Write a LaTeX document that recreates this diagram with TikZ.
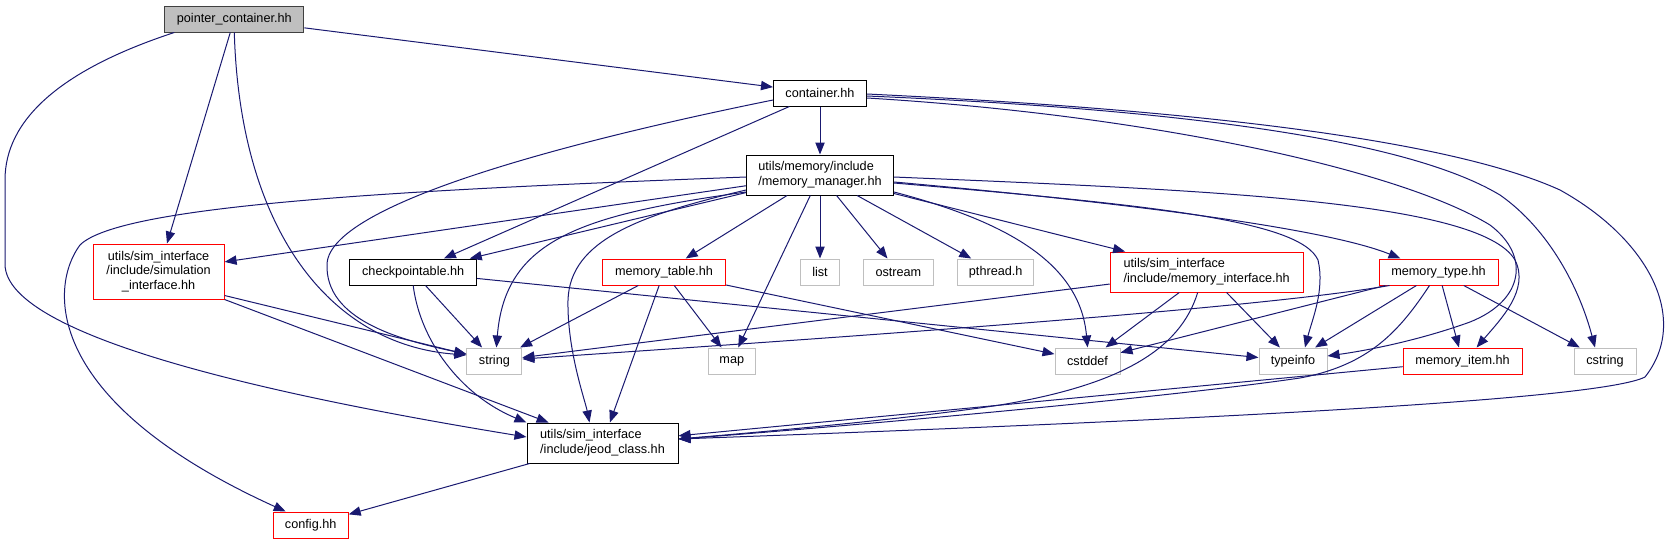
\documentclass[tikz,border=0pt]{standalone}
\usepackage{fontspec}
\setmainfont{Liberation Sans}
\usepackage{xcolor}
\usetikzlibrary{arrows.meta, positioning, calc}
\definecolor{edgeblue}{HTML}{191970}
\definecolor{boxgray}{HTML}{BFBFBF}
\definecolor{boxred}{HTML}{FF0000}
\tikzset{
  %% File box of the include graph
  filebox/.style={
    rectangle, draw=#1, fill=white,
    line width=0.75pt, inner sep=0pt, align=center,
    font=\fontsize{9.5}{11}\selectfont
  },
  filebox/.default=black,
  %% Box size given in pixels
  pxsize/.style 2 args={minimum width=#1*0.75pt, minimum height=#2*0.75pt},
  %% Include arrow
  inc/.style={-{Triangle[length=9pt,width=7pt]},
              draw=edgeblue, line width=0.75pt},
}

\begin{document}
\begin{tikzpicture}[x=0.75pt, y=-0.75pt]
  \useasboundingbox (0,0) rectangle (1679,544);

  \node[filebox=black!75, fill=boxgray, pxsize={139}{26}] (pc) at (234.3,19)
       {pointer\_container.hh};
  \node[filebox, pxsize={93}{26}] (cont) at (820,93) {container.hh};
  \node[filebox, align=left, pxsize={147}{40}] (mm) at (820,175)
       {utils/memory/include\\/memory\_manager.hh};

  \node[filebox=boxred, pxsize={131}{55}] (simi) at (158.6,271.5)
       {utils/sim\_interface\\/include/simulation\\\_interface.hh};
  \node[filebox, pxsize={127}{26}] (ckpt) at (413.2,272) {checkpointable.hh};
  \node[filebox=boxred, pxsize={123}{26}] (mtab) at (664,272) {memory\_table.hh};
  \node[filebox=boxgray, pxsize={39}{26}] (list) at (820,272) {list};
  \node[filebox=boxgray, pxsize={70}{26}] (ostream) at (898.4,272) {ostream};
  \node[filebox=boxgray, pxsize={76}{26}] (pthread) at (995.7,272) {pthread.h};
  \node[filebox=boxred, align=left, pxsize={193}{40}] (mint) at (1206.7,272)
       {utils/sim\_interface\\/include/memory\_interface.hh};
  \node[filebox=boxred, pxsize={119}{26}] (mtype) at (1438.5,272) {memory\_type.hh};

  \node[filebox=boxgray, pxsize={55}{26}] (string) at (494.4,361) {string};
  \node[filebox=boxgray, pxsize={47}{26}] (map) at (731.8,361) {map};
  \node[filebox=boxgray, pxsize={65}{26}] (cstddef) at (1087.5,361) {cstddef};
  \node[filebox=boxgray, pxsize={68}{26}] (typeinfo) at (1293,361) {typeinfo};
  \node[filebox=boxred, pxsize={119}{26}] (mitem) at (1462.6,361) {memory\_item.hh};
  \node[filebox=boxgray, pxsize={62}{26}] (cstring) at (1605,361) {cstring};

  \node[filebox, align=left, pxsize={151}{40}] (jeod) at (602.5,443)
       {utils/sim\_interface\\/include/jeod\_class.hh};
  \node[filebox=boxred, pxsize={75}{26}] (config) at (310.7,525) {config.hh};

  %% pointer_container.hh
  \draw[inc] (pc) -- (cont);
  \draw[inc] (pc) -- (simi);
  \draw[inc] (pc.south) .. controls (240,230) and (330,345)
             .. ($(string.west)+(0,-6)$);
  \draw[inc] ($(pc.south west)+(10,0)$) .. controls (60,70) and (5,120) .. (5,180)
             -- (5,264) .. controls (5,340) and (300,400) .. ($(jeod.west)+(0,-6)$);

  %% container.hh
  \draw[inc] (cont) -- (mm);
  \draw[inc] (cont) -- (ckpt);
  \draw[inc] ($(cont.west)+(0,7)$) .. controls (600,135) and (330,200) .. (327,264)
             .. controls (325,320) and (400,340) .. ($(string.west)+(0,-7)$);
  \draw[inc] ($(cont.east)+(0,5)$) .. controls (1150,115) and (1400,170) .. (1490,225)
             .. controls (1530,255) and (1525,300) .. (1470,322)
             .. controls (1420,340) and (1370,350) .. ($(typeinfo.east)+(0,-5)$);
  \draw[inc] ($(cont.east)+(0,3)$) .. controls (1150,108) and (1400,135) .. (1500,195)
             .. controls (1550,230) and (1580,290) .. ($(cstring.north)+(-10,0)$);
  \draw[inc] ($(cont.east)+(0,1)$) .. controls (1200,110) and (1450,140) .. (1560,190)
             .. controls (1650,240) and (1690,320) .. (1645,377)
             .. controls (1600,400) and (1200,420) .. ($(jeod.east)+(0,-4)$);

  %% memory_manager.hh
  \draw[inc] ($(mm.west)+(0,2)$) .. controls (400,190) and (120,205) .. (80,245)
             .. controls (50,285) and (40,400) .. ($(config.north west)+(13,0)$);
  \draw[inc] (mm) -- (simi);
  \draw[inc] (mm) -- (ckpt);
  \draw[inc] ($(mm.west)+(0,17)$) .. controls (580,215) and (505,240)
             .. ($(string.north)+(2,0)$);
  \draw[inc] ($(mm.west)+(0,15)$) .. controls (640,215) and (570,240) .. (568,300)
             .. controls (567,350) and (585,400) .. ($(jeod.north west)+(63,0)$);
  \draw[inc] (mm) -- (mtab);
  \draw[inc] (mm) -- (map);
  \draw[inc] (mm) -- (list);
  \draw[inc] (mm) -- (ostream);
  \draw[inc] (mm) -- (pthread);
  \draw[inc] ($(mm.east)+(0,17)$) .. controls (1000,220) and (1080,260) .. (cstddef.north);
  \draw[inc] (mm) -- (mint);
  \draw[inc] ($(mm.east)+(0,8)$) .. controls (1150,205) and (1300,220) .. (1318,260)
             .. controls (1325,290) and (1312,320) .. ($(typeinfo.north)+(12,0)$);
  \draw[inc] ($(mm.east)+(0,7)$) .. controls (1150,205) and (1330,230)
             .. ($(mtype.north west)+(22,0)$);
  \draw[inc] ($(mm.east)+(0,2)$) .. controls (1200,190) and (1480,200) .. (1515,260)
             .. controls (1530,290) and (1500,320) .. ($(mitem.north)+(14,0)$);

  %% second row
  \draw[inc] ($(simi.south east)+(0,-4)$) -- (string);
  \draw[inc] (simi.south east) -- (jeod);
  \draw[inc] (ckpt) -- (string);
  \draw[inc] (ckpt.south) .. controls (420,340) and (460,395) .. (jeod.north west);
  \draw[inc] (ckpt) -- (typeinfo);
  \draw[inc] (mtab) -- (string);
  \draw[inc] (mtab) -- (map);
  \draw[inc] (mtab) -- (jeod);
  \draw[inc] (mtab) -- (cstddef);
  \draw[inc] (mint) -- (string);
  \draw[inc] (mint) -- (cstddef);
  \draw[inc] (mint) -- (typeinfo);
  \draw[inc] ($(mint.south west)+(88,0)$) .. controls (1180,350) and (1120,385) .. (1000,405)
             .. controls (900,420) and (760,432) .. ($(jeod.east)+(0,-4)$);
  \draw[inc] ($(mtype.south west)+(11,0)$) .. controls (1250,310) and (800,340)
             .. ($(string.east)+(0,-2)$);
  \draw[inc] (mtype) -- (cstddef);
  \draw[inc] (mtype) -- (typeinfo);
  \draw[inc] (mtype) -- (mitem);
  \draw[inc] (mtype) -- (cstring);
  \draw[inc] ($(mtype.south west)+(51,0)$) .. controls (1400,330) and (1370,365) .. (1300,378)
             .. controls (1150,400) and (800,430) .. ($(jeod.east)+(0,-4)$);

  %% third row
  \draw[inc] (mitem) -- (jeod);
  \draw[inc] (jeod) -- (config);

\end{tikzpicture}
\end{document}
